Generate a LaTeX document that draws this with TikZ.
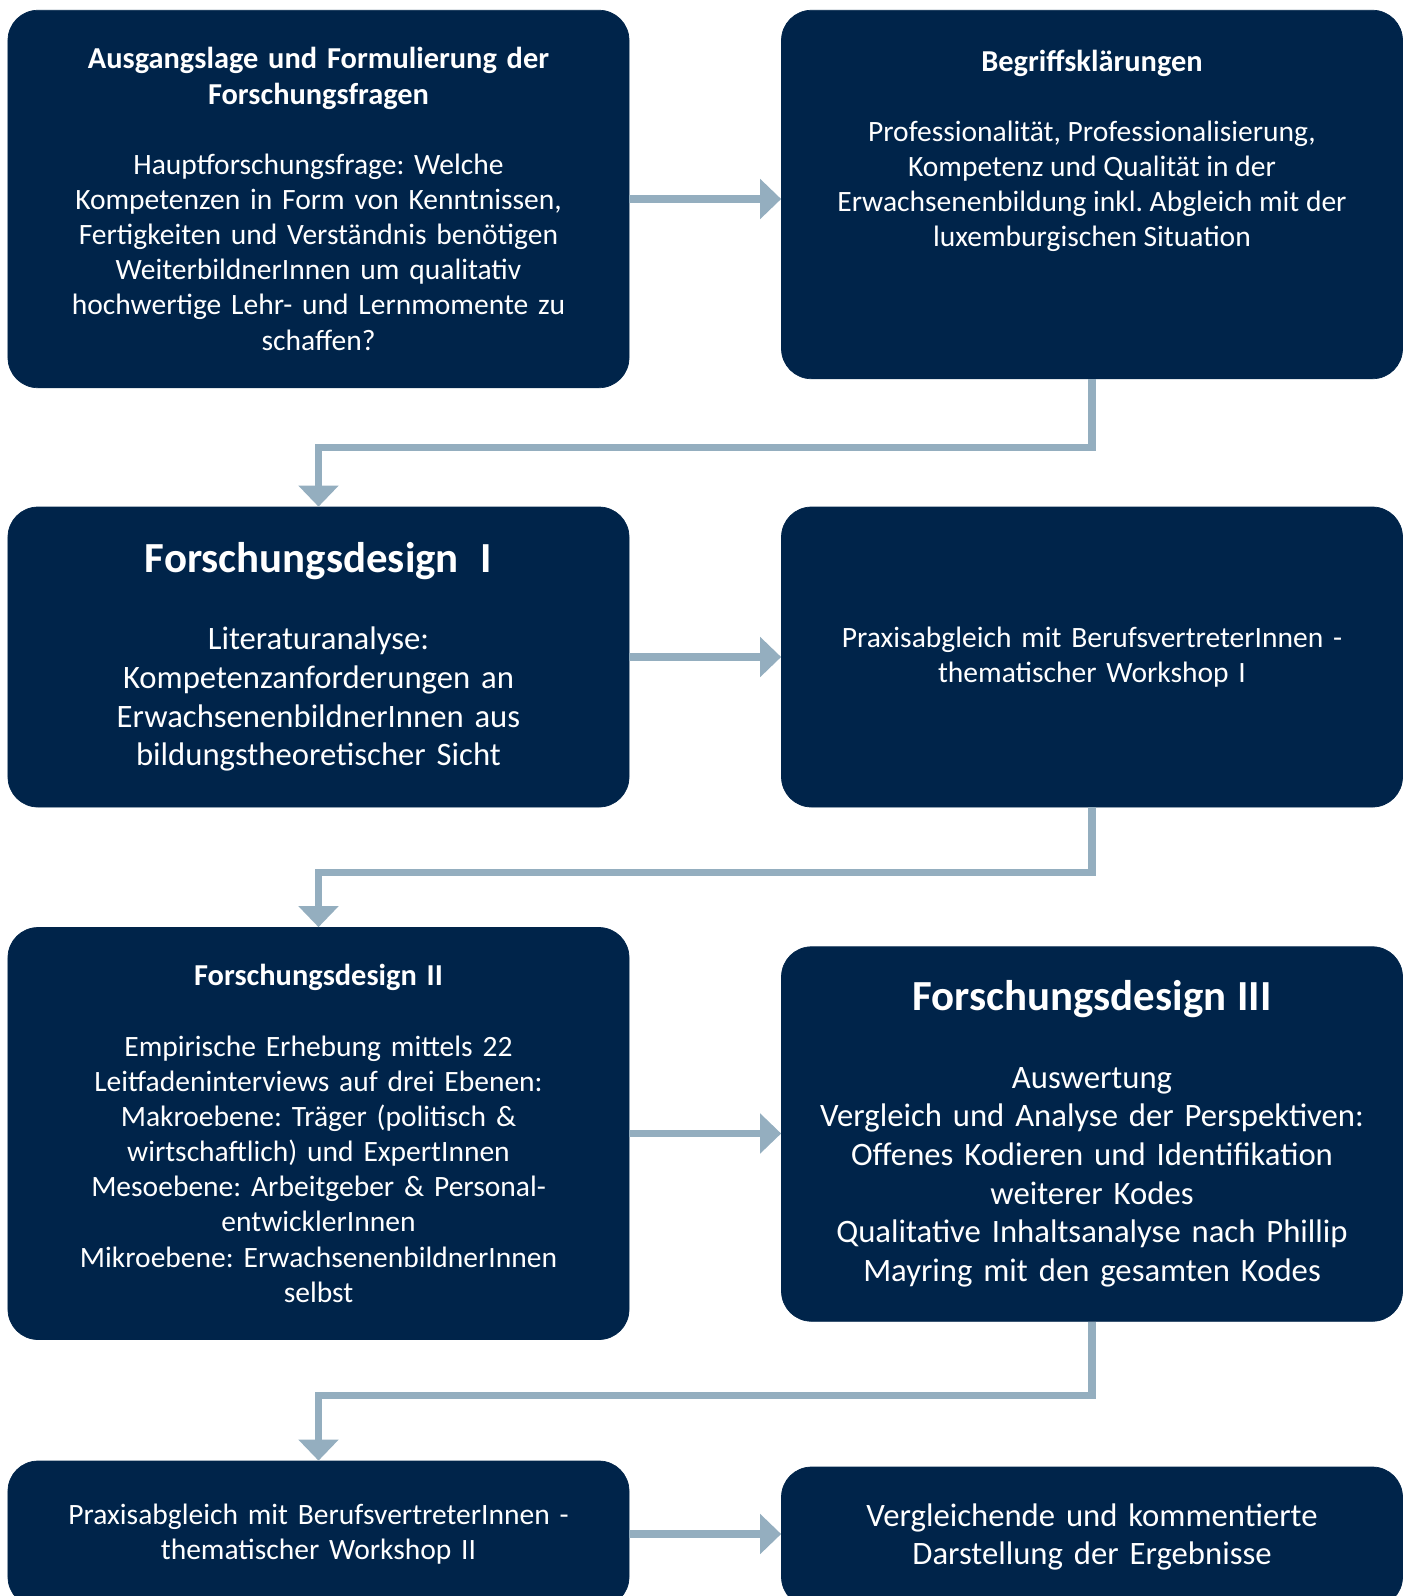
\documentclass[tikz,border=0pt]{standalone}
\usepackage{fontspec}
\setmainfont{Carlito}
\usepackage{tikz}
\usepackage{xcolor}
\usetikzlibrary{arrows.meta}
\frenchspacing
\definecolor{NavyBox}{HTML}{00244A}
\definecolor{ArrowGrey}{HTML}{94AEBF}
\newcommand\boxfont{\fontsize{16.8}{20}\selectfont}
\newcommand\boxfontbig{\fontsize{18.6}{22}\selectfont}
\newcommand\boxtitle{\fontsize{17.3}{20}\selectfont\bfseries}
\newcommand\boxtitlebig{\fontsize{24.4}{26}\selectfont\bfseries}
\newcommand\nodeausgang{{\boxtitle Ausgangslage und Formulierung der\\ Forschungsfragen}\\[20pt]
  Hauptforschungsfrage: Welche\\ Kompetenzen in Form von Kenntnissen,\\ Fertigkeiten und Verständnis benötigen\\
  WeiterbildnerInnen um qualitativ\\ hochwertige Lehr- und Lernmomente zu\\ schaffen?}
\newcommand\nodebegriff{{\boxtitle Begriffsklärungen}\\[20pt]
  Professionalität, Professionalisierung,\\ Kompetenz und Qualität in der\\
  Erwachsenenbildung inkl. Abgleich mit der\\ luxemburgischen Situation}
\newcommand\nodedesigni{{\boxtitlebig Forschungsdesign~~I}\\[22pt]
  Literaturanalyse:\\ Kompetenzanforderungen an\\ ErwachsenenbildnerInnen aus\\ bildungstheoretischer Sicht}
\newcommand\nodepraxisi{Praxisabgleich mit BerufsvertreterInnen -\\ thematischer Workshop I}
\newcommand\nodedesignii{{\boxtitle Forschungsdesign II}\\[20pt]
  Empirische Erhebung mittels 22\\ Leitfadeninterviews auf drei Ebenen:\\ Makroebene: Träger (politisch \&\\
  wirtschaftlich) und ExpertInnen\\ Mesoebene: Arbeitgeber \& Personal-\\ entwicklerInnen\\
  Mikroebene: ErwachsenenbildnerInnen\\ selbst}
\newcommand\nodedesigniii{{\boxtitlebig Forschungsdesign III}\\[22pt]
  Auswertung\\ Vergleich und Analyse der Perspektiven:\\ Offenes Kodieren und Identifikation\\
  weiterer Kodes\\ Qualitative Inhaltsanalyse nach Phillip\\ Mayring mit den gesamten Kodes}
\newcommand\nodepraxisii{Praxisabgleich mit BerufsvertreterInnen -\\ thematischer Workshop II}
\newcommand\nodeergebnis{Vergleichende und kommentierte\\ Darstellung der Ergebnisse}
\tikzstyle{mybox} = [rectangle, rounded corners=0.6cm, minimum width=12.42cm, text width=12cm,
  inner sep=0.21cm, align=center, text=white, fill=NavyBox, draw=NavyBox]
\tikzstyle{conn} = [->, draw=ArrowGrey, line width=0.15cm]
\tikzset{>={Triangle[length=0.42cm, width=0.78cm]}}

\begin{document}
\begin{tikzpicture}
\useasboundingbox (0,0) rectangle (28.18,-31.92);
\clip (0,0) rectangle (28.18,-31.92);
\node[mybox, minimum height=7.55cm, font=\boxfont] (ausgang) at (6.37, -3.98) {\nodeausgang};
\node[mybox, minimum height=7.37cm] (begriff) at (21.84, -3.89) {};
\node[text=white, font=\boxfont, align=center, anchor=north] (begrifftext) at (21.84, -0.87) {\nodebegriff};
\node[mybox, minimum height=6cm, font=\boxfontbig] (designi) at (6.37, -13.14) {\nodedesigni};
\node[mybox, minimum height=6cm, font=\boxfont] (praxisi) at (21.84, -13.14) {\nodepraxisi};
\node[mybox, minimum height=8.24cm, font=\boxfont] (designii) at (6.37, -22.67) {\nodedesignii};
\node[mybox, minimum height=7.49cm, font=\boxfontbig] (designiii) at (21.84, -22.68) {\nodedesigniii};
\node[mybox, minimum height=2.92cm, font=\boxfont] (praxisii) at (6.37, -30.68) {\nodepraxisii};
\node[mybox, minimum height=2.8cm, font=\boxfontbig] (ergebnis) at (21.84, -30.74) {\nodeergebnis};
\draw [conn] (ausgang.east) -- (ausgang.east -| begriff.west);
\draw [conn] (begriff.south) -- ++(0, -1.37) -| (designi.north);
\draw [conn] (designi.east) -- (designi.east -| praxisi.west);
\draw [conn] (praxisi.south) -- ++(0, -1.30) -| (designii.north);
\draw [conn] (designii.east) -- (designii.east -| designiii.west);
\draw [conn] (designiii.south) -- ++(0, -1.48) -| (praxisii.north);
\draw [conn] (praxisii.east) -- (praxisii.east -| ergebnis.west);
\end{tikzpicture}
\end{document}
